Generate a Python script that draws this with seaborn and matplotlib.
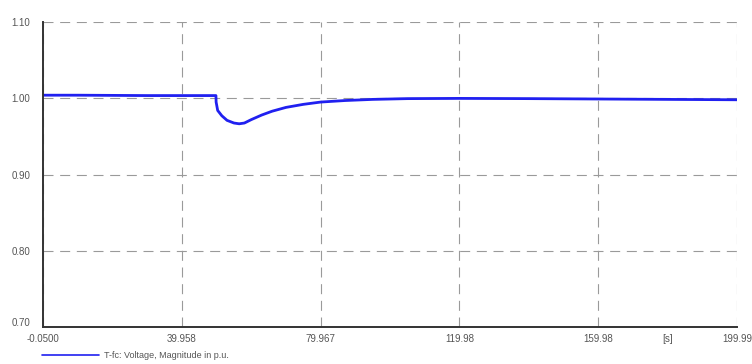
import matplotlib
matplotlib.use("Agg")
import matplotlib.pyplot as plt
import seaborn as sns
import pandas as pd
from matplotlib.ticker import FixedLocator, MultipleLocator
from matplotlib.transforms import ScaledTranslation

# Terminal voltage magnitude over simulation time
time_s = [-0.05, 10, 30, 49.8, 49.85, 50.3, 51.5, 53, 55, 56.5, 58, 60, 63, 66,
          70, 75, 80, 87, 95, 105, 120, 140, 160, 180, 199.99]
voltage_pu = [1.004, 1.004, 1.0035, 1.0035, 0.995, 0.984, 0.977, 0.971, 0.9675,
              0.9665, 0.9675, 0.972, 0.978, 0.983, 0.988, 0.992, 0.995, 0.997,
              0.9985, 0.9995, 0.9998, 0.9995, 0.999, 0.9985, 0.998]

x_ticks = [-0.05, 39.958, 79.967, 119.98, 159.98, 199.99]
x_tick_labels = ["-0.0500", "39.958", "79.967", "119.98", "159.98", "199.99"]
y_ticks = [0.70, 0.80, 0.90, 1.00, 1.10]
y_tick_labels = ["0.70", "0.80", "0.90", "1.00", "1.10"]
series_label = "T-fc: Voltage, Magnitude in p.u."

sns.set_style("white")
plt.rcParams["font.family"] = ["Liberation Sans", "DejaVu Sans"]

df = pd.DataFrame({"t": time_s, "v": voltage_pu})

fig = plt.figure(figsize=(7.52, 3.64), dpi=100)
ax = fig.add_axes([0.0572, 0.1016, 0.9228, 0.838])

sns.lineplot(data=df, x="t", y="v", ax=ax, color="#2020f0", lw=2.0,
             label=series_label, legend=False)

ax.set_xlim(x_ticks[0], x_ticks[-1])
ax.set_ylim(y_ticks[0], y_ticks[-1])
ax.set_xlabel("")
ax.set_ylabel("")

ax.xaxis.set_major_locator(FixedLocator(x_ticks))
ax.set_xticklabels(x_tick_labels)
minor_x = [(a + b) / 2 for a, b in zip(x_ticks[:-1], x_ticks[1:])]
ax.xaxis.set_minor_locator(FixedLocator(minor_x))
ax.yaxis.set_major_locator(FixedLocator(y_ticks))
ax.set_yticklabels(y_tick_labels)
ax.yaxis.set_minor_locator(MultipleLocator(0.05))

ax.tick_params(axis="both", which="major", direction="in", length=8,
               width=0.8, color="#555555", labelsize=7, labelcolor="#555555")
ax.tick_params(axis="x", which="major", pad=5)
ax.tick_params(axis="y", which="major", pad=9)
ax.tick_params(axis="both", which="minor", direction="in", length=4,
               width=0.8, color="#555555")

# lift the lowest y label clear of the time-axis labels
lowest = ax.get_yticklabels()[0]
lowest.set_transform(lowest.get_transform() +
                     ScaledTranslation(0, 5 / 100, fig.dpi_scale_trans))

ax.grid(True, which="major", color="#9a9a9a", lw=0.8, ls=(0, (9, 6)))

for side in ("top", "right"):
    ax.spines[side].set_visible(False)
for side in ("left", "bottom"):
    ax.spines[side].set_color("#333333")
    ax.spines[side].set_linewidth(1.4)

# unit marker on the time axis
ax.text(minor_x[-1], -0.022, "[s]", transform=ax.get_xaxis_transform(),
        ha="center", va="top", fontsize=7, color="#555555")

handles, labels = ax.get_legend_handles_labels()
fig.legend(handles, labels, loc="lower left", bbox_to_anchor=(0.045, -0.012),
           frameon=False, fontsize=6.5, handlelength=6.3, handletextpad=0.6,
           labelcolor="#555555")
for line in fig.legends[0].get_lines():
    line.set_linewidth(1.2)

fig.savefig("out.png", dpi=100)
